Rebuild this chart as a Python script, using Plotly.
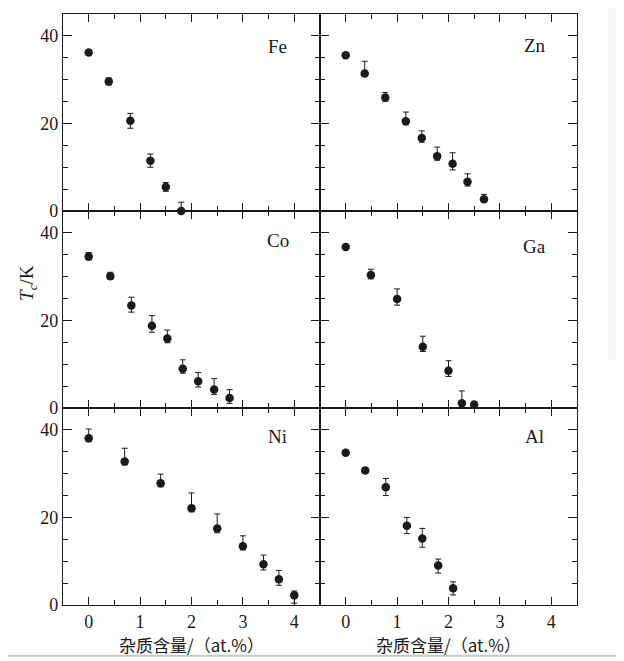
import plotly.graph_objects as go

# ---------------- data ----------------
fe_x = [0, 0.39, 0.81, 1.2, 1.5, 1.8]
fe_y = [36.2, 29.6, 20.6, 11.5, 5.5, 0.0]
fe_ep = [0.4, 0.8, 1.7, 1.5, 1.0, 2.0]
fe_em = [0.4, 0.8, 1.7, 1.5, 1.0, 0.0]

zn_x = [0, 0.37, 0.77, 1.17, 1.48, 1.78, 2.08, 2.37, 2.69]
zn_y = [35.6, 31.4, 25.9, 20.5, 16.7, 12.5, 10.8, 6.7, 2.7]
zn_ep = [0.4, 2.8, 1.2, 2.1, 1.6, 2.1, 2.5, 1.8, 1.1]
zn_em = [0.4, 0.5, 0.8, 0.8, 1.0, 0.9, 1.4, 1.0, 0.6]

co_x = [0, 0.42, 0.83, 1.23, 1.53, 1.83, 2.13, 2.44, 2.74]
co_y = [34.6, 30.1, 23.4, 18.8, 15.9, 8.95, 6.1, 4.2, 2.3]
co_ep = [0.9, 0.9, 1.9, 2.3, 1.9, 2.05, 2.0, 2.5, 1.9]
co_em = [0.8, 0.6, 1.5, 1.5, 1.0, 1.0, 1.3, 1.1, 1.25]

ga_x = [0, 0.49, 1.0, 1.5, 2.0, 2.26, 2.5]
ga_y = [36.8, 30.4, 24.9, 14.0, 8.5, 1.1, 0.8]
ga_ep = [0.3, 1.3, 2.3, 2.4, 2.3, 2.8, 0.3]
ga_em = [0.3, 0.9, 1.4, 1.1, 1.3, 0.0, 0.3]

ni_x = [0, 0.7, 1.4, 2.0, 2.5, 3.0, 3.4, 3.7, 4.0]
ni_y = [38.1, 32.8, 27.8, 22.1, 17.5, 13.4, 9.3, 5.9, 2.2]
ni_ep = [2.1, 3.0, 2.1, 3.5, 3.3, 2.4, 2.1, 2.0, 1.0]
ni_em = [0.8, 0.8, 0.8, 0.8, 1.0, 0.8, 1.3, 1.4, 1.8]

al_x = [0, 0.38, 0.78, 1.19, 1.49, 1.80, 2.09]
al_y = [34.8, 30.7, 26.9, 18.1, 15.2, 9.0, 3.8]
al_ep = [0.5, 0.6, 2.0, 1.9, 2.3, 1.5, 1.5]
al_em = [0.5, 0.6, 1.9, 1.8, 2.0, 1.7, 1.5]

panels = [
    ("Fe", fe_x, fe_y, fe_ep, fe_em, 1, 1, 37.6),
    ("Zn", zn_x, zn_y, zn_ep, zn_em, 1, 2, 37.8),
    ("Co", co_x, co_y, co_ep, co_em, 2, 1, 38.2),
    ("Ga", ga_x, ga_y, ga_ep, ga_em, 2, 2, 37.0),
    ("Ni", ni_x, ni_y, ni_ep, ni_em, 3, 1, 38.4),
    ("Al", al_x, al_y, al_ep, al_em, 3, 2, 38.4),
]

x_range = [-0.5, 4.5]
y_range = [0, 45]
x_title = "杂质含量/（at.%）"
y_title = "<i>T</i><sub><i>c</i></sub>/K"

serif = "Liberation Serif"
ink = "#1a1a1a"

fig = go.Figure()
layout = {}
annotations = []

for i, (name, xs, ys, ep, em, row, col, ly) in enumerate(panels):
    idx = i + 1
    xa = "x" if idx == 1 else f"x{idx}"
    ya = "y" if idx == 1 else f"y{idx}"
    fig.add_trace(go.Scatter(
        x=xs, y=ys, xaxis=xa, yaxis=ya, mode="markers",
        marker=dict(color=ink, size=8.5, symbol="circle"),
        error_y=dict(type="data", array=ep, arrayminus=em, symmetric=False,
                     color=ink, thickness=1, width=3),
        cliponaxis=False, showlegend=False,
    ))
    xdom = [0, 0.5] if col == 1 else [0.5, 1]
    ydom = [(3 - row) / 3, (4 - row) / 3]
    xkey = "xaxis" if idx == 1 else f"xaxis{idx}"
    ykey = "yaxis" if idx == 1 else f"yaxis{idx}"
    layout[xkey] = dict(
        domain=xdom, anchor=ya, range=x_range, tick0=0, dtick=1,
        ticks="inside", ticklen=8, tickwidth=1, tickcolor=ink,
        minor=dict(dtick=0.5, ticks="inside", ticklen=5, tickcolor=ink, tickwidth=1),
        showline=True, linecolor=ink, linewidth=1.2, mirror="allticks",
        showgrid=False, zeroline=False,
        showticklabels=(row == 3),
        tickfont=dict(family=serif, size=18, color=ink),
        title=dict(text=x_title if row == 3 else "",
                   font=dict(family="Noto Sans CJK SC", size=17, color=ink),
                   standoff=2),
    )
    layout[ykey] = dict(
        domain=ydom, anchor=xa, range=y_range, tick0=0, dtick=20,
        ticks="inside", ticklen=9, tickwidth=1, tickcolor=ink,
        minor=dict(dtick=5, ticks="inside", ticklen=5, tickcolor=ink, tickwidth=1),
        showline=True, linecolor=ink, linewidth=1.2, mirror="allticks",
        showgrid=False, zeroline=False,
        showticklabels=(col == 1),
        tickfont=dict(family=serif, size=18, color=ink),
    )
    annotations.append(dict(
        x=3.68, y=ly, xref=xa, yref=ya, text=name, showarrow=False,
        font=dict(family=serif, size=19, color=ink), xanchor="center", yanchor="middle",
    ))

annotations.append(dict(
    x=-0.068, y=0.545, xref="paper", yref="paper", text=y_title, showarrow=False,
    textangle=-90, font=dict(family=serif, size=19, color=ink),
    xanchor="center", yanchor="middle",
))

shapes = [
    dict(type="rect", xref="paper", yref="paper", x0=1.06, x1=1.1, y0=0.415, y1=1.03,
         fillcolor="#f6f6f6", line=dict(width=0), layer="below"),
    dict(type="line", xref="paper", yref="paper", x0=-0.13, x1=1.1, y0=-0.086, y1=-0.086,
         line=dict(color="#c8c8c8", width=2)),
]

# page body has an 8px margin: shrink the figure so the plot area lands at the same pixels
fig.update_layout(
    width=616, height=653,
    margin=dict(l=55, r=47, t=6, b=56),
    paper_bgcolor="white", plot_bgcolor="white",
    annotations=annotations, shapes=shapes,
    **layout,
)

fig.write_html("out.html")
